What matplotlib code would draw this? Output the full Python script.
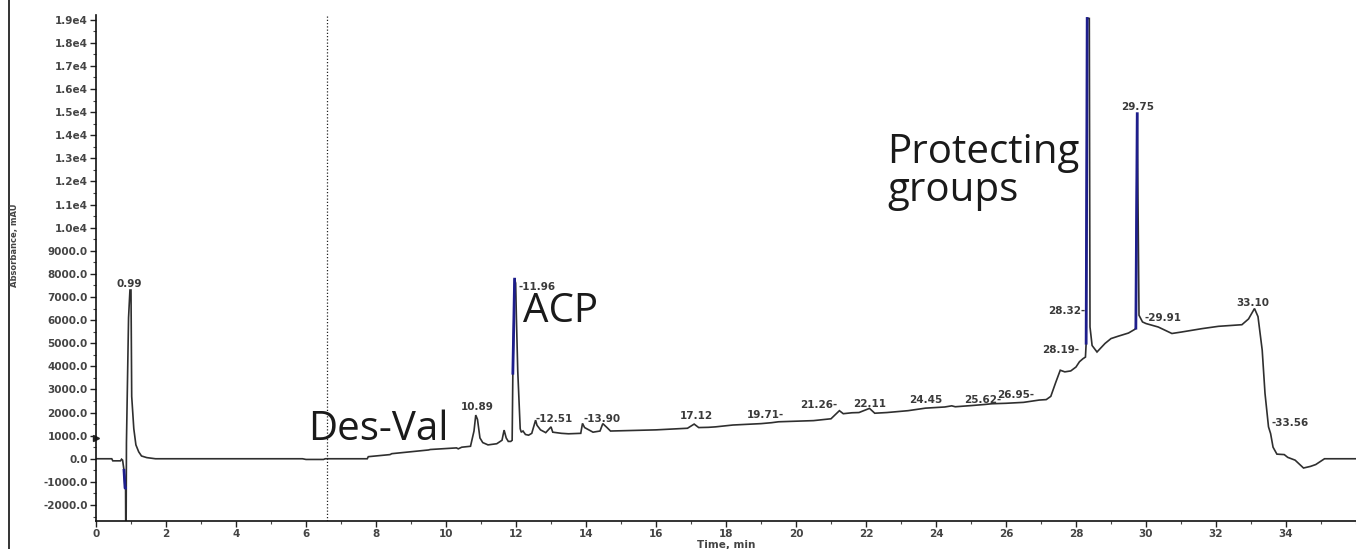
import numpy as np
import matplotlib
matplotlib.use("Agg")
import matplotlib.pyplot as plt
from matplotlib.lines import Line2D
from matplotlib.ticker import MultipleLocator, FixedLocator, FixedFormatter

# Chromatogram trace: retention time (min) and absorbance (mAU)
time_min = [
    0.00, 0.45, 0.48, 0.70, 0.73, 0.76, 0.80, 0.83, 0.845, 0.85, 0.86, 0.87,
    0.93, 0.97, 1.00, 1.02, 1.08, 1.14, 1.22, 1.30, 1.45, 1.70, 5.90, 6.00,
    6.50, 6.55, 7.75, 7.78, 8.40, 8.45, 9.50, 9.55, 10.00, 10.30, 10.35, 10.45,
    10.70, 10.80, 10.85, 10.90, 10.97, 11.05, 11.20, 11.45, 11.60, 11.66, 11.72, 11.78,
    11.85, 11.89, 11.91, 11.96, 11.99, 12.01, 12.05, 12.08, 12.12, 12.15, 12.20, 12.27,
    12.36, 12.45, 12.56, 12.60, 12.70, 12.85, 13.00, 13.05, 13.30, 13.50, 13.85, 13.90,
    13.96, 14.20, 14.40, 14.48, 14.60, 14.70, 15.50, 16.00, 16.50, 16.90, 17.09, 17.22,
    17.50, 17.70, 18.20, 19.00, 19.30, 19.50, 19.90, 20.50, 21.00, 21.24, 21.35, 21.60,
    21.80, 22.10, 22.25, 22.60, 23.20, 23.70, 24.25, 24.45, 24.55, 25.00, 25.40, 25.60,
    26.00, 26.50, 26.95, 27.15, 27.28, 27.42, 27.55, 27.68, 27.85, 28.00, 28.10, 28.20,
    28.27, 28.29, 28.32, 28.38, 28.40, 28.46, 28.60, 28.83, 29.00, 29.20, 29.50, 29.68,
    29.71, 29.75, 29.80, 29.90, 30.00, 30.35, 30.74, 31.00, 31.60, 32.07, 32.74, 32.93,
    33.10, 33.20, 33.32, 33.40, 33.50, 33.56, 33.63, 33.74, 33.95, 34.05, 34.26, 34.50,
    34.70, 34.85, 35.10, 36.00,
]
absorbance = [
    0, 0, -90, -90, -20, -60, -500, -1270, -1270, -3200, -3200, 700,
    6100, 7300, 7300, 2700, 1300, 600, 300, 120, 50, 0, 0, -30,
    -30, 0, 0, 90, 180, 220, 380, 400, 440, 470, 430, 500,
    540, 1200, 1890, 1700, 900, 700, 600, 650, 800, 1240, 900, 750,
    750, 800, 3700, 7770, 7600, 6200, 3800, 2680, 1300, 1150, 1200, 1050,
    1020, 1100, 1670, 1450, 1250, 1130, 1380, 1150, 1100, 1080, 1100, 1530,
    1350, 1150, 1200, 1520, 1350, 1200, 1230, 1250, 1290, 1320, 1500, 1350,
    1360, 1380, 1460, 1520, 1560, 1600, 1620, 1650, 1730, 2080, 1950, 1990,
    2000, 2180, 1970, 2000, 2080, 2190, 2240, 2290, 2250, 2300, 2350, 2380,
    2400, 2440, 2540, 2560, 2700, 3300, 3830, 3760, 3800, 3970, 4200, 4330,
    4400, 5000, 19050, 19050, 5700, 4900, 4620, 4990, 5200, 5300, 5440, 5600,
    5650, 14930, 6210, 5920, 5850, 5700, 5420, 5480, 5630, 5730, 5800, 6050,
    6500, 6150, 4700, 2830, 1380, 1090, 500, 200, 180, 60, -60, -400,
    -330, -250, 0, 0,
]

# Stretches of the trace drawn in blue (peak cores)
highlight_windows = [(0.78, 0.846), (11.90, 11.965), (28.28, 28.33), (29.70, 29.755)]

# Retention-time labels: text, time, absorbance, horizontal alignment
peak_texts = ["0.99", "10.89", "-11.96", "-12.51", "-13.90", "17.12", "19.71-",
              "21.26-", "22.11", "24.45", "25.62-", "26.95-", "28.19-", "28.32-",
              "29.75", "-29.91", "33.10", "-33.56"]
peak_t = [0.95, 10.90, 12.06, 12.55, 13.93, 17.14, 19.66,
          21.18, 22.10, 23.70, 24.80, 26.82, 28.10, 28.26,
          29.77, 29.96, 33.06, 33.60]
peak_v = [7550, 2250, 7430, 1700, 1700, 1845, 1890,
          2320, 2350, 2550, 2550, 2750, 4700, 6380,
          15210, 6070, 6740, 1530]
peak_ha = ["center", "center", "left", "left", "left", "center", "right",
           "right", "center", "center", "left", "right", "right", "right",
           "center", "left", "center", "left"]

# Compound annotations: text, time, absorbance (baseline, left aligned)
group_texts = ["Des-Val", "ACP", "Protecting", "groups"]
group_t = [6.05, 12.20, 22.60, 22.60]
group_v = [800, 5900, 12780, 11140]

# Axis ticks
x_ticks = list(range(0, 36, 2))
y_ticks = [-2000, -1000, 0, 1000, 2000, 3000, 4000, 5000, 6000, 7000, 8000, 9000,
           10000, 11000, 12000, 13000, 14000, 15000, 16000, 17000, 18000, 19000]
y_tick_labels = ["-2000.0", "-1000.0", "0.0", "1000.0", "2000.0", "3000.0", "4000.0",
                 "5000.0", "6000.0", "7000.0", "8000.0", "9000.0", "1.0e4", "1.1e4",
                 "1.2e4", "1.3e4", "1.4e4", "1.5e4", "1.6e4", "1.7e4", "1.8e4", "1.9e4"]
marker_time = 6.6

W, H = 1356, 549
fig = plt.figure(figsize=(W / 100, H / 100), dpi=100)
ax = fig.add_axes([96 / W, 28.3 / H, 1 - 96 / W, (520.7 - 15) / H])

t = np.array(time_min)
a = np.array(absorbance)
trace_color = "#2f2f2f"
ax.plot(t, a, color=trace_color, lw=1.2, solid_joinstyle="miter")
for lo, hi in highlight_windows:
    m = (t >= lo) & (t <= hi)
    ax.plot(t[m], a[m], color="#1e1e8c", lw=2.0)

ax.axvline(marker_time, color="#222222", lw=0.9, ls=(0, (1, 1.6)))

ax.set_xlim(0, 36)
ax.set_ylim(-2680, 19200)

for s in ("top", "right"):
    ax.spines[s].set_visible(False)
for s in ("left", "bottom"):
    ax.spines[s].set_color("#111111")
    ax.spines[s].set_linewidth(1.2)

tick_font = dict(family="DejaVu Sans", size=7.5, weight="bold")
ax.xaxis.set_major_locator(FixedLocator(x_ticks))
ax.xaxis.set_minor_locator(MultipleLocator(1))
ax.yaxis.set_major_locator(FixedLocator(y_ticks))
ax.yaxis.set_major_formatter(FixedFormatter(y_tick_labels))
ax.yaxis.set_minor_locator(MultipleLocator(500))
ax.tick_params(axis="both", which="major", length=4, width=1, color="#222222",
               labelcolor="#444444", pad=2)
ax.tick_params(axis="both", which="minor", length=2, width=0.8, color="#444444")
for lab in ax.get_xticklabels() + ax.get_yticklabels():
    lab.set_fontproperties(matplotlib.font_manager.FontProperties(**tick_font))

ax.set_xlabel("Time, min", fontsize=7.5, fontweight="bold", color="#444444",
              family="DejaVu Sans", labelpad=1)
fig.text(15 / W, 1 - 245 / H, "Absorbance, mAU", rotation=90, fontsize=6,
         fontweight="bold", color="#444444", ha="center", va="center",
         family="DejaVu Sans")

# small level marker on the absorbance axis
ax.plot([0], [900], marker=">", color="#222222", markersize=5, clip_on=False,
        transform=ax.get_yaxis_transform())

for txt, x, y, ha in zip(peak_texts, peak_t, peak_v, peak_ha):
    ax.text(x, y, txt, ha=ha, va="center", fontsize=7.5, fontweight="bold",
            color="#3a3a3a", family="DejaVu Sans")

for txt, x, y in zip(group_texts, group_t, group_v):
    ax.text(x, y, txt, ha="left", va="baseline", fontsize=29, color="#1a1a1a",
            family="Open Sans")

# frame edge on the left of the picture
fig.add_artist(Line2D([8.5 / W, 8.5 / W], [0, 1], color="#111111", lw=1.2))

fig.savefig("out.png", dpi=100, facecolor="white")
